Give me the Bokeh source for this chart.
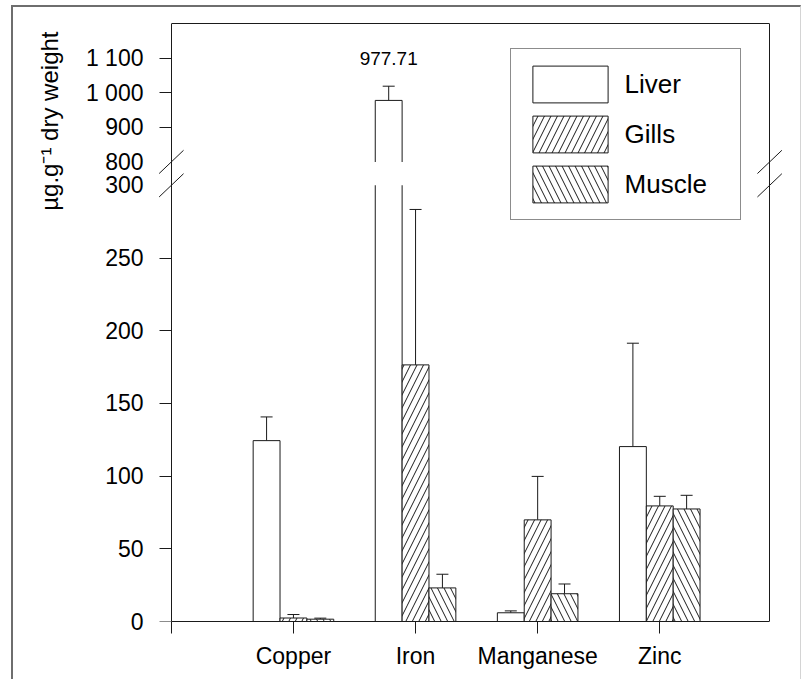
import pandas as pd
from bokeh.plotting import figure
from bokeh.models import (ColumnDataSource, Range1d, LinearAxis, FixedTicker, CustomJSTransform,
                          CustomJSTickFormatter, Whisker, TeeHead, BoxAnnotation, Legend, LegendItem)
from bokeh.transform import transform, dodge
from bokeh.core.properties import value
from bokeh.embed import file_html
from bokeh.resources import INLINE

# ---------------- data ----------------
CATEGORIES = ["Copper", "Iron", "Manganese", "Zinc"]
SERIES = ["Liver", "Gills", "Muscle"]
LIVER = [124.4, 977.71, 6.0, 120.3]
LIVER_SD = [16.3, 41.1, 1.3, 71.1]
GILLS = [2.4, 176.5, 69.9, 79.5]
GILLS_SD = [2.4, 106.9, 29.9, 6.6]
MUSCLE = [1.6, 23.1, 19.1, 77.4]
MUSCLE_SD = [0.7, 9.4, 6.7, 9.4]
Y_TICKS_LOW = [0, 50, 100, 150, 200, 250, 300]
Y_TICKS_HIGH = [800, 900, 1000, 1100]
Y_TITLE = "µg.g⁻¹ dry weight"

# ---------------- broken-axis geometry ----------------
LOW_MAX = 300      # top of lower segment
HIGH_MIN = 800     # bottom of upper segment
HIGH_MAX = 1200    # top of upper segment
GAP = 16.1         # size of the break, in lower-segment units
K = 0.238          # scale of upper segment relative to lower segment
X_END = 4.9
XPAD = 0.1216
BAR_W = 0.22
FONT = "Liberation Sans"
INK = "#1a1a1a"


def disp(v):
    if v <= LOW_MAX:
        return v
    if v >= HIGH_MIN:
        return LOW_MAX + GAP + (v - HIGH_MIN) * K
    return LOW_MAX + GAP * (v - LOW_MAX) / (HIGH_MIN - LOW_MAX)


brk = CustomJSTransform(
    args=dict(lo=LOW_MAX, hi=HIGH_MIN, gap=GAP, k=K),
    func="""
        const v = x;
        if (v <= lo) return v;
        if (v >= hi) return lo + gap + (v - hi) * k;
        return lo + gap * (v - lo) / (hi - lo);
    """,
    v_func="""
        const out = new Float64Array(xs.length);
        for (let i = 0; i < xs.length; i++) {
            const v = xs[i];
            out[i] = v <= lo ? v : (v >= hi ? lo + gap + (v - hi) * k : lo + gap * (v - lo) / (hi - lo));
        }
        return out;
    """,
)

df = pd.DataFrame(dict(
    cat=CATEGORIES,
    x=list(range(1, len(CATEGORIES) + 1)),
    liver=LIVER, gills=GILLS, muscle=MUSCLE,
))
df["liver_hi"] = df["liver"] + pd.Series(LIVER_SD)
df["gills_hi"] = df["gills"] + pd.Series(GILLS_SD)
df["muscle_hi"] = df["muscle"] + pd.Series(MUSCLE_SD)
src = ColumnDataSource(df)

p = figure(width=790, height=674, output_backend="svg", toolbar_location=None,
           x_range=Range1d(-XPAD, X_END + XPAD), y_range=Range1d(0, disp(HIGH_MAX)),
           min_border_left=143, min_border_right=19, min_border_top=16, min_border_bottom=60,
           title=Y_TITLE, title_location="left",
           styles={"margin-left": "11px", "margin-top": "5px",
                   "border-left": "2px solid #6e6e6e", "border-top": "2px solid #6e6e6e",
                   "border-right": "1px solid #d4d4d4"})
p.outline_line_color = None
p.xgrid.visible = False
p.ygrid.visible = False
p.background_fill_color = "white"
p.border_fill_color = "white"

p.title.align = "right"
p.title.vertical_align = "top"
p.title.offset = 8
p.title.standoff = 36
p.title.text_font = FONT
p.title.text_font_size = "24px"
p.title.text_font_style = "normal"
p.title.text_color = "black"

cols = ["liver", "gills", "muscle"]
offsets = [-BAR_W, 0.0, BAR_W]
hatches = [None, "/", "\\"]
renderers = []
for col, off, hp in zip(cols, offsets, hatches):
    kw = dict(hatch_pattern=hp, hatch_color=INK, hatch_scale=13, hatch_weight=1) if hp else {}
    r = p.vbar(x=dodge("x", off, range=p.x_range), top=transform(col, brk), bottom=0, width=BAR_W,
               source=src, fill_color="white", line_color=INK, line_width=1, **kw)
    renderers.append(r)
    w = Whisker(source=src, base=dodge("x", off, range=p.x_range),
                lower=transform(col, brk), upper=transform(col + "_hi", brk),
                dimension="height", line_color=INK, line_width=1,
                upper_head=TeeHead(size=12, line_color=INK, line_width=1), lower_head=None)
    p.add_layout(w)

# white band marking the axis break
band = BoxAnnotation(bottom=LOW_MAX, top=disp(HIGH_MIN), fill_color="white", fill_alpha=1.0,
                     line_alpha=0, level="glyph")
p.add_layout(band)

# break marks crossing both vertical edges
bx0, bx1, by0, by1 = [], [], [], []
for xe in (0, X_END):
    for yb in (LOW_MAX, disp(HIGH_MIN)):
        bx0.append(xe - 0.1); bx1.append(xe + 0.1)
        by0.append(yb - 8); by1.append(yb + 8)
p.segment(x0=bx0, y0=by0, x1=bx1, y1=by1, line_color=INK, line_width=1, level="overlay")

# value label for the broken bar
broken = df[df["liver"] > HIGH_MIN]
bsrc = ColumnDataSource(dict(x=broken["x"], hi=broken["liver_hi"],
                             label=[f"{v:.2f}" for v in broken["liver"]]))
p.text(x=dodge("x", -BAR_W, range=p.x_range), y=transform("hi", brk), text="label", source=bsrc,
       y_offset=-27.5, text_align="center", text_baseline="alphabetic",
       text_font=value(FONT), text_font_size="19px", text_color="black")

# x axis
xa = p.xaxis[0]
xa.bounds = (0, X_END)
xa.ticker = FixedTicker(ticks=list(range(len(CATEGORIES) + 1)))
xa.major_label_overrides = {0: "", **{i + 1: c for i, c in enumerate(CATEGORIES)}}
xa.major_tick_out = 12
xa.major_tick_in = 0
xa.minor_tick_line_color = None
xa.major_label_standoff = 9
xa.major_label_text_font = FONT
xa.major_label_text_font_size = "23px"
xa.major_label_text_color = "black"
xa.axis_line_color = INK
xa.major_tick_line_color = INK

# y axis, labels part (sits at the frame edge)
ya = p.yaxis[0]
ya.ticker = FixedTicker(ticks=[disp(v) for v in Y_TICKS_LOW + Y_TICKS_HIGH])
ya.formatter = CustomJSTickFormatter(args=dict(lo=LOW_MAX, hi=HIGH_MIN, gap=GAP, k=K), code="""
    let v = tick;
    if (tick > lo + gap / 2) v = hi + (tick - lo - gap) / k;
    v = Math.round(v);
    return v.toString().replace(/\\B(?=(\\d{3})+(?!\\d))/g, " ");
""")
ya.axis_line_color = None
ya.major_tick_line_color = None
ya.minor_tick_line_color = None
ya.major_tick_out = 0
ya.major_tick_in = 0
ya.minor_tick_out = 0
ya.minor_tick_in = 0
ya.major_label_standoff = 13
ya.major_label_text_font = FONT
ya.major_label_text_font_size = "23px"
ya.major_label_text_color = "black"

# y axis line and tick marks at x = 0 (ticks point left); break values carry no tick mark
yb_axis = LinearAxis(ticker=FixedTicker(ticks=[], minor_ticks=[disp(v) for v in Y_TICKS_LOW[:-1] + Y_TICKS_HIGH[1:]]),
                     fixed_location=0, axis_line_color=INK,
                     major_tick_line_color=None, major_tick_out=0, major_tick_in=0,
                     minor_tick_line_color=INK, minor_tick_out=0, minor_tick_in=12,
                     major_label_standoff=0)
p.add_layout(yb_axis, "right")

ra = LinearAxis(ticker=FixedTicker(ticks=[]), major_tick_line_color=None, major_tick_out=0,
                minor_tick_line_color=None, major_label_standoff=0, axis_line_color=INK,
                fixed_location=X_END)
p.add_layout(ra, "right")
ta = LinearAxis(ticker=FixedTicker(ticks=[]), major_tick_line_color=None, major_tick_out=0,
                minor_tick_line_color=None, major_label_standoff=0, axis_line_color=INK,
                bounds=(0, X_END))
p.add_layout(ta, "above")

legend = Legend(items=[LegendItem(label=s, renderers=[r]) for s, r in zip(SERIES, renderers)],
                location=(353.6, 400.9), orientation="vertical",
                glyph_width=94, glyph_height=46, label_standoff=8, padding=12, spacing=4,
                label_width=103, label_text_font=FONT, label_text_font_size="26px",
                label_text_color="black", border_line_color=INK, border_line_width=1,
                background_fill_color="white", background_fill_alpha=1.0, margin=0)
p.add_layout(legend)

open("out.html", "w").write(file_html(p, INLINE))
